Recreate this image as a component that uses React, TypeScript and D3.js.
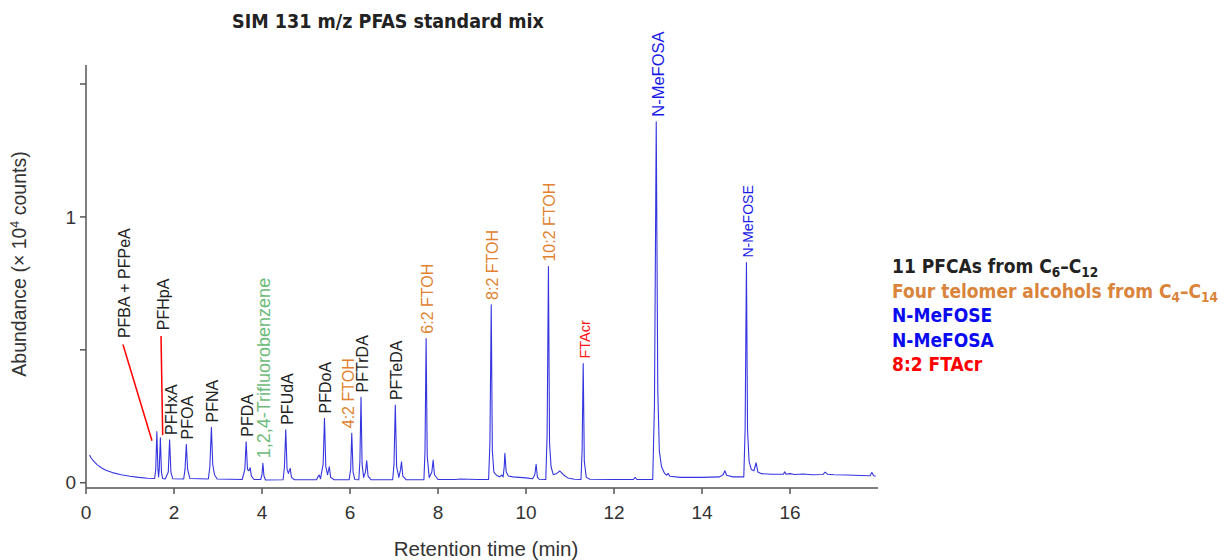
import React from "react";
import * as d3 from "d3";

// ---------- data ----------
// chromatogram trace: [retention time (min), abundance (x10^4 counts)]
const trace: [number, number][] = [
  [0.08, 0.104], [0.12, 0.092], [0.18, 0.08], [0.25, 0.068], [0.35, 0.056], [0.45, 0.047], [0.6, 0.038], [0.8, 0.03], [1.0, 0.024], [1.2, 0.02], [1.4, 0.017], [1.56, 0.016],
  [1.585, 0.05], [1.61, 0.192], [1.635, 0.05], [1.65, 0.022], [1.665, 0.05], [1.69, 0.169], [1.715, 0.04], [1.74, 0.016], [1.8, 0.014],
  [1.87, 0.04], [1.9, 0.161], [1.93, 0.04], [1.97, 0.015], [2.22, 0.014],
  [2.25, 0.05], [2.28, 0.144], [2.31, 0.05], [2.36, 0.016], [2.78, 0.014],
  [2.815, 0.06], [2.85, 0.208], [2.88, 0.07], [2.92, 0.03], [2.98, 0.014], [3.55, 0.012],
  [3.61, 0.05], [3.64, 0.154], [3.67, 0.05], [3.7, 0.045], [3.73, 0.056], [3.76, 0.025], [3.82, 0.012], [3.97, 0.012],
  [4.0, 0.03], [4.02, 0.073], [4.045, 0.025], [4.08, 0.01], [4.48, 0.011],
  [4.51, 0.06], [4.54, 0.199], [4.57, 0.05], [4.6, 0.035], [4.64, 0.054], [4.67, 0.02], [4.74, 0.011], [5.24, 0.011],
  [5.28, 0.025], [5.3, 0.029], [5.33, 0.015],
  [5.39, 0.07], [5.42, 0.242], [5.45, 0.06], [5.49, 0.03], [5.53, 0.06], [5.56, 0.02], [5.64, 0.011], [5.98, 0.011],
  [6.015, 0.05], [6.04, 0.186], [6.07, 0.04], [6.11, 0.012], [6.2, 0.011],
  [6.225, 0.08], [6.25, 0.321], [6.275, 0.07], [6.31, 0.02], [6.35, 0.04], [6.38, 0.082], [6.41, 0.025], [6.48, 0.011], [6.97, 0.011],
  [7.0, 0.07], [7.03, 0.292], [7.06, 0.06], [7.11, 0.02], [7.15, 0.05], [7.17, 0.079], [7.2, 0.025], [7.28, 0.011], [7.68, 0.011],
  [7.705, 0.12], [7.73, 0.542], [7.755, 0.1], [7.8, 0.02], [7.86, 0.04], [7.89, 0.085], [7.92, 0.03], [8.0, 0.012], [8.4, 0.012], [8.5, 0.014], [8.9, 0.012], [9.15, 0.012],
  [9.18, 0.15], [9.21, 0.669], [9.235, 0.12], [9.27, 0.04], [9.33, 0.028], [9.4, 0.022], [9.45, 0.029], [9.48, 0.022], [9.505, 0.06], [9.52, 0.111], [9.55, 0.04], [9.6, 0.025], [9.7, 0.022], [9.85, 0.02], [10.0, 0.018], [10.15, 0.015],
  [10.2, 0.03], [10.23, 0.069], [10.26, 0.02], [10.3, 0.013], [10.45, 0.012],
  [10.48, 0.18], [10.51, 0.813], [10.535, 0.15], [10.57, 0.06], [10.62, 0.03], [10.7, 0.035], [10.77, 0.044], [10.85, 0.03], [10.95, 0.018], [11.1, 0.013], [11.25, 0.012],
  [11.275, 0.12], [11.3, 0.448], [11.325, 0.08], [11.37, 0.02], [11.45, 0.013], [12.0, 0.012], [12.44, 0.012], [12.48, 0.02], [12.52, 0.012], [12.88, 0.012],
  [12.92, 0.3], [12.96, 1.358], [12.995, 0.35], [13.03, 0.12], [13.08, 0.06], [13.15, 0.035], [13.2, 0.028], [13.23, 0.035], [13.27, 0.024], [13.5, 0.02], [14.0, 0.02], [14.4, 0.022], [14.48, 0.03], [14.52, 0.045], [14.56, 0.028], [14.7, 0.022], [14.95, 0.022],
  [14.98, 0.2], [15.01, 0.828], [15.035, 0.2], [15.07, 0.08], [15.12, 0.05], [15.18, 0.045], [15.23, 0.075], [15.27, 0.04], [15.35, 0.034], [15.6, 0.032], [15.85, 0.032], [15.88, 0.041], [15.91, 0.032], [16.0, 0.034], [16.1, 0.031], [16.3, 0.033], [16.5, 0.03], [16.75, 0.031], [16.8, 0.04], [16.85, 0.032], [17.0, 0.03], [17.3, 0.029], [17.6, 0.027], [17.82, 0.026], [17.86, 0.038], [17.9, 0.026], [17.95, 0.025],
];

const peakNames = ["PFHxA", "PFOA", "PFNA", "PFDA", "1,2,4-Trifluorobenzene", "PFUdA", "PFDoA", "4:2 FTOH", "PFTrDA", "PFTeDA", "6:2 FTOH", "8:2 FTOH", "10:2 FTOH", "FTAcr", "N-MeFOSA", "N-MeFOSE"];
const peakTimes = [1.9, 2.28, 2.85, 3.64, 4.02, 4.54, 5.42, 6.04, 6.25, 7.03, 7.73, 9.21, 10.51, 11.3, 12.96, 15.01];
const peakHeights = [0.161, 0.144, 0.208, 0.154, 0.073, 0.199, 0.242, 0.186, 0.321, 0.292, 0.542, 0.669, 0.813, 0.448, 1.358, 0.828];
const peakGroups = ["pfca", "pfca", "pfca", "pfca", "istd", "pfca", "pfca", "ftoh", "pfca", "pfca", "ftoh", "ftoh", "ftoh", "ftacr", "mefosa", "mefose"];

// leader-line annotations (data units)
const leaderNames = ["PFBA + PFPeA", "PFHpA"];
const leaderTextAt: [number, number][] = [[0.886, 0.544], [1.757, 0.574]];
const leaderFrom: [number, number][] = [[0.84, 0.52], [1.705, 0.552]];
const leaderTo: [number, number][] = [[1.5, 0.158], [1.743, 0.179]];

const xTicks = [0, 2, 4, 6, 8, 10, 12, 14, 16];
const yTicks = [0, 0.5, 1, 1.5];
const yTickLabels = ["0", "", "1", ""];

const legendGroups = ["pfca", "ftoh", "mefose", "mefosa", "ftacr"];

// ---------- styles ----------
const groupColor: Record<string, string> = {
  pfca: "#222222",
  ftoh: "#E0822F",
  istd: "#6DBB7A",
  ftacr: "#FF1414",
  mefosa: "#1A1AE6",
  mefose: "#1A1AE6",
};
const legendColor: Record<string, string> = {
  pfca: "#222222",
  ftoh: "#D9843A",
  mefose: "#0A0AF0",
  mefosa: "#0A0AF0",
  ftacr: "#FF0000",
};
const labelSize: Record<string, number> = {
  "1,2,4-Trifluorobenzene": 18,
  FTAcr: 14.5,
  "N-MeFOSE": 14,
  "N-MeFOSA": 16.5,
};
const labelNudge: Record<string, number> = { "4:2 FTOH": -4.5 };

const ARIAL = "'Liberation Sans', Arial, sans-serif";
const COND = "'Liberation Sans Narrow', 'DejaVu Sans Condensed', Roboto, sans-serif";

export default function App() {
  const x = d3.scaleLinear().domain([0, 18]).range([86, 878]);
  const y = d3.scaleLinear().domain([0, 1.57]).range([482.7, 65.4]);
  const line = d3.line<[number, number]>().x((d) => x(d[0])).y((d) => y(d[1]));
  const axisY = 488;
  const axisColor = "#555";

  const legendLines = [
    <>11 PFCAs from C<tspan dy={4} fontSize={13.5}>6</tspan><tspan dy={-4}>–C</tspan><tspan dy={4} fontSize={13.5}>12</tspan></>,
    <>Four telomer alcohols from C<tspan dy={4} fontSize={13.5}>4</tspan><tspan dy={-4}>–C</tspan><tspan dy={4} fontSize={13.5}>14</tspan></>,
    <>N-MeFOSE</>,
    <>N-MeFOSA</>,
    <>8:2 FTAcr</>,
  ];

  return (
    <svg width={1224} height={560} style={{ position: "absolute", left: 0, top: 0, background: "#fff" }}>
      {/* title */}
      <text x={388} y={28} textAnchor="middle" fontFamily={COND} fontWeight="bold" fontSize={19.5} fill="#222">
        SIM 131 m/z PFAS standard mix
      </text>

      {/* axes */}
      <line x1={86} x2={86} y1={65} y2={axisY} stroke={axisColor} strokeWidth={1.5} />
      <line x1={86} x2={878} y1={axisY} y2={axisY} stroke={axisColor} strokeWidth={1.5} />
      {yTicks.map((t, i) => (
        <g key={"yt" + i}>
          <line x1={80} x2={86} y1={y(t)} y2={y(t)} stroke={axisColor} strokeWidth={1.5} />
          {yTickLabels[i] && (
            <text x={76} y={y(t)} dy="0.35em" textAnchor="end" fontFamily={ARIAL} fontSize={19} fill="#333">
              {yTickLabels[i]}
            </text>
          )}
        </g>
      ))}
      {xTicks.map((t) => (
        <g key={"xt" + t}>
          <line x1={x(t)} x2={x(t)} y1={axisY} y2={axisY + 6} stroke={axisColor} strokeWidth={1.5} />
          <text x={x(t)} y={519} textAnchor="middle" fontFamily={ARIAL} fontSize={19} fill="#333">
            {t}
          </text>
        </g>
      ))}
      <text x={486} y={556} textAnchor="middle" fontFamily={ARIAL} fontSize={20.5} fill="#333">
        Retention time (min)
      </text>
      <text transform={`translate(26,264) rotate(-90)`} textAnchor="middle" fontFamily={ARIAL} fontSize={19.5} fill="#333">
        Abundance (× 10<tspan dy={-7} fontSize={12.5}>4</tspan><tspan dy={7}> counts)</tspan>
      </text>

      {/* trace */}
      <path d={line(trace) || ""} fill="none" stroke="#3535E0" strokeWidth={1.1} strokeLinejoin="round" />

      {/* peak labels */}
      {peakNames.map((n, i) => {
        const px = x(peakTimes[i]) + 1.5 + (labelNudge[n] || 0);
        const py = y(peakHeights[i]) - 5;
        return (
          <text
            key={n}
            transform={`translate(${px},${py}) rotate(-90)`}
            textAnchor="start"
            dominantBaseline="central"
            fontFamily={ARIAL}
            fontSize={labelSize[n] || 16}
            fill={groupColor[peakGroups[i]]}
          >
            {n}
          </text>
        );
      })}

      {/* leader annotations */}
      {leaderNames.map((n, i) => (
        <g key={n}>
          <line
            x1={x(leaderFrom[i][0])}
            y1={y(leaderFrom[i][1])}
            x2={x(leaderTo[i][0])}
            y2={y(leaderTo[i][1])}
            stroke="#FF0000"
            strokeWidth={1.5}
          />
          <text
            transform={`translate(${x(leaderTextAt[i][0])},${y(leaderTextAt[i][1])}) rotate(-90)`}
            textAnchor="start"
            dominantBaseline="central"
            fontFamily={ARIAL}
            fontSize={16}
            fill="#222"
          >
            {n}
          </text>
        </g>
      ))}

      {/* legend */}
      {legendGroups.map((g, i) => (
        <text key={g} x={892} y={273 + i * 24.6} fontFamily={COND} fontWeight="bold" fontSize={19} fill={legendColor[g]}>
          {legendLines[i]}
        </text>
      ))}
    </svg>
  );
}
